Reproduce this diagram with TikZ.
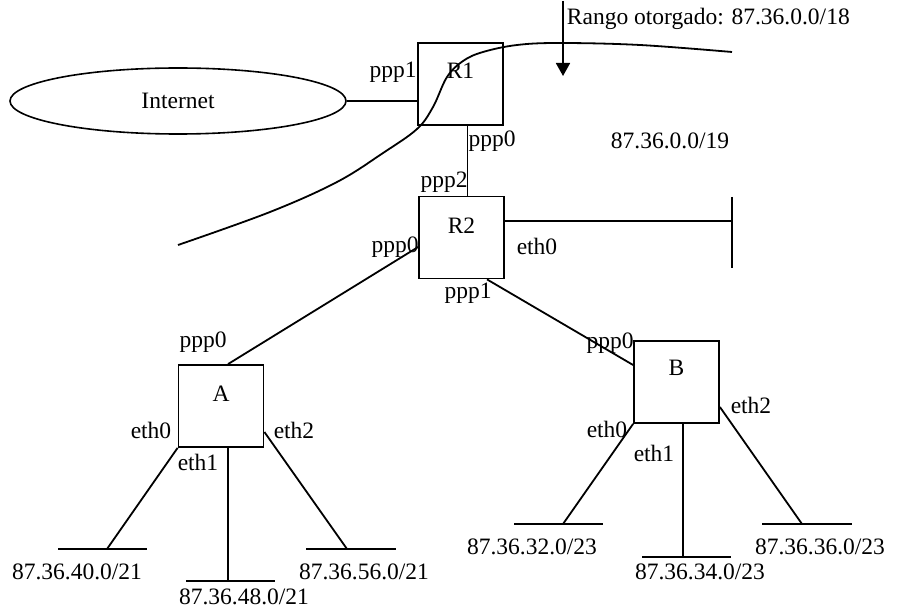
\documentclass[tikz,border=0pt]{standalone}
\usepackage{fontspec}
\setmainfont{Liberation Serif}
\usetikzlibrary{shapes.geometric,arrows.meta}
\begin{document}
\begin{tikzpicture}[x=1pt,y=-1pt,line width=1.8pt,
  every node/.style={inner sep=0pt,font=\fontsize{23.5}{28}\selectfont},
  boxst/.style={draw,rectangle,minimum width=85pt,minimum height=82pt},
  lab/.style={anchor=center}]
\useasboundingbox (0,0) rectangle (899,612);
% Internet
\node[draw,ellipse,line width=1.6pt,minimum width=336pt,minimum height=66pt] (inet) at (178,101) {Internet};
% routers
\node[boxst,label={[lab,yshift=-29pt]north:R1}] (r1) at (460.5,84) {};
\node[boxst,label={[lab,yshift=-30pt]north:R2}] (r2) at (461.5,237.5) {};
\node[boxst,label={[lab,yshift=-30pt]north:A}] (a) at (221,406) {};
\node[boxst,label={[lab,yshift=-28pt]north:B}] (b) at (676.5,382) {};
% coordinates
\coordinate (e0) at (732,221);
\coordinate (a0) at (107,549);
\coordinate (a1) at (228,581);
\coordinate (a2) at (347,549);
\coordinate (b0) at (563,524);
\coordinate (b1) at (683,557);
\coordinate (b2) at (802,524);
\coordinate (arrtop) at (563,1);
\coordinate (arrtip) at (563,76);
% connectors
\draw (inet.east) -- (inet.east -| r1.west);
\draw ([xshift=7pt]r1.south) -- ([xshift=7pt]r1.south |- r2.north);
\draw ([yshift=16.5pt]r2.east) -- (e0);
\draw ([yshift=24pt]e0) -- ([yshift=-47pt]e0);
\draw ([yshift=-9.5pt]r2.west) -- ([xshift=7pt]a.north);
\draw ([xshift=25.5pt]r2.south) -- ([yshift=17pt]b.west);
% A links
\draw (a.south west) -- (a0);
\draw ([xshift=-49pt]a0) -- ([xshift=40pt]a0);
\draw ([xshift=7pt]a.south) -- (a1);
\draw ([xshift=-42pt]a1) -- ([xshift=47pt]a1);
\draw ([yshift=-26pt]a.east) -- (a2);
\draw ([xshift=-41pt]a2) -- ([xshift=49pt]a2);
% B links
\draw (b.south west) -- (b0);
\draw ([xshift=-49pt]b0) -- ([xshift=40pt]b0);
\draw ([xshift=6.5pt]b.south) -- (b1);
\draw ([xshift=-41pt]b1) -- ([xshift=48pt]b1);
\draw ([yshift=-25pt]b.east) -- (b2);
\draw ([xshift=-40pt]b2) -- ([xshift=50pt]b2);
% curve
\draw plot[smooth,tension=0.6] coordinates {(178,245) (270,212) (337,182) (383,153) (417,129) (433,107) (447,77) (463,61) (483,52) (517,45) (560,43) (640,45) (732,52)};
% arrow
\draw[-{Triangle[width=14pt,length=13pt]}] (arrtop) -- (arrtip);
% labels
\node[anchor=west] (rango) at (566,19) {Rango otorgado: 87.36.0.0/18};
\node (n19) at (670,141) {87.36.0.0/19};
\node (l1) at (393,72) {ppp1};
\node (l2) at (492,141) {ppp0};
\node (l3) at (444,182) {ppp2};
\node (l4) at (537,246) {eth0};
\node (l5) at (395,247) {ppp0};
\node (l6) at (468,293) {ppp1};
\node (l7) at (203,342) {ppp0};
\node (l8) at (151,430) {eth0};
\node (l9) at (198,462) {eth1};
\node (l10) at (294,430) {eth2};
\node (l11) at (610,343) {ppp0};
\node (l12) at (607,429) {eth0};
\node (l13) at (654,453) {eth1};
\node (l14) at (751,405) {eth2};
\node (s1) at (77,572) {87.36.40.0/21};
\node (s2) at (244,597) {87.36.48.0/21};
\node (s3) at (364,572) {87.36.56.0/21};
\node (s4) at (532,547) {87.36.32.0/23};
\node (s5) at (700,572) {87.36.34.0/23};
\node (s6) at (820,547) {87.36.36.0/23};
\end{tikzpicture}
\end{document}
